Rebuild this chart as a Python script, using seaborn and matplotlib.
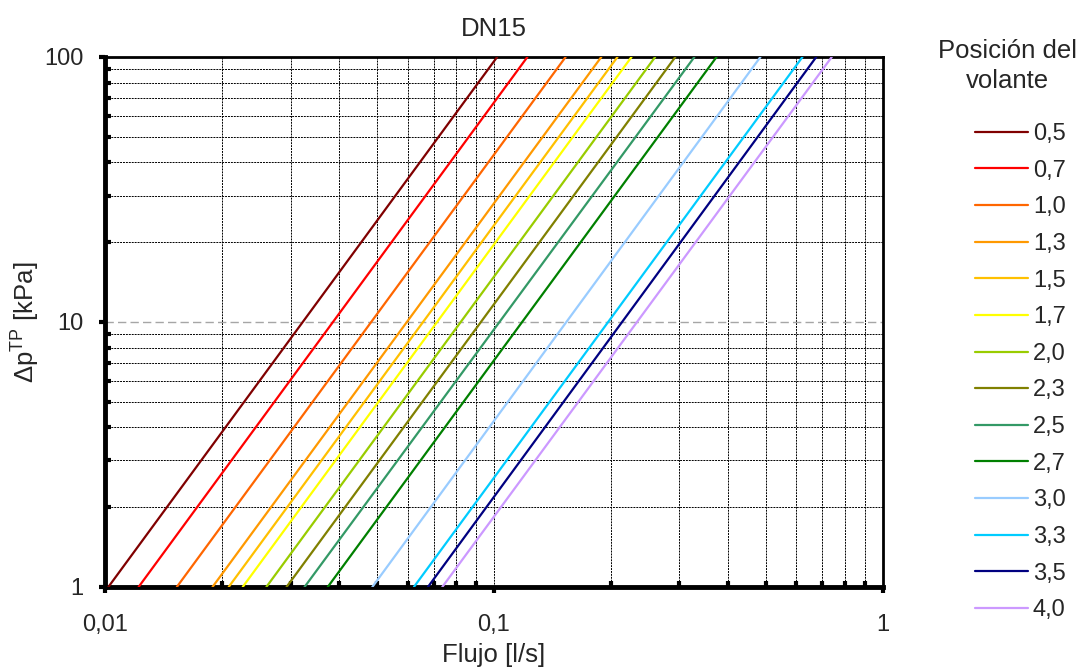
import numpy as np
import pandas as pd
import seaborn as sns
import matplotlib.pyplot as plt
from matplotlib.ticker import LogLocator, FixedLocator, FixedFormatter, NullFormatter

# handwheel positions and flow at 1 kPa and at 100 kPa
positions = ['0,5', '0,7', '1,0', '1,3', '1,5', '1,7', '2,0', '2,3', '2,5', '2,7', '3,0', '3,3', '3,5', '4,0']
q_at_1kpa = [0.0102, 0.0122, 0.0153, 0.0189, 0.0208, 0.0226, 0.0260, 0.0293, 0.0326, 0.0374, 0.0487, 0.0623, 0.0677, 0.0737]
q_at_100kpa = [0.102, 0.122, 0.153, 0.189, 0.208, 0.226, 0.260, 0.293, 0.328, 0.374, 0.485, 0.622, 0.675, 0.740]
dp_ends = [1, 100]
colors = ['#800000', '#FF0000', '#FF6600', '#FF9900', '#FFC000', '#FFFF00', '#99CC00',
          '#808000', '#339966', '#008000', '#99CCFF', '#00CCFF', '#000080', '#CC99FF']

rows = []
for p, q1, q2 in zip(positions, q_at_1kpa, q_at_100kpa):
    rows.append({'pos': p, 'q': q1, 'dp': dp_ends[0]})
    rows.append({'pos': p, 'q': q2, 'dp': dp_ends[1]})
df = pd.DataFrame(rows)

sns.set_style('white')
plt.rcParams['font.family'] = ['Liberation Sans', 'DejaVu Sans']
plt.rcParams['mathtext.fontset'] = 'custom'
plt.rcParams['mathtext.rm'] = 'Liberation Sans'

fig = plt.figure(figsize=(10.83, 6.70), dpi=100)
ax = fig.add_axes([0.097, 0.124, 0.718, 0.791])

sns.lineplot(data=df, x='q', y='dp', hue='pos', palette=colors, hue_order=positions,
             linewidth=1.6, ax=ax, zorder=3, sort=False, estimator=None)

ax.set_xscale('log')
ax.set_yscale('log')
ax.set_xlim(0.01, 1)
ax.set_ylim(1, 100)

# ticks
ax.xaxis.set_major_locator(FixedLocator([0.01, 0.1, 1]))
ax.xaxis.set_major_formatter(FixedFormatter(['0,01', '0,1', '1']))
ax.yaxis.set_major_locator(FixedLocator([1, 10, 100]))
ax.yaxis.set_major_formatter(FixedFormatter(['1', '10', '100']))
ax.xaxis.set_minor_locator(LogLocator(base=10, subs=np.arange(2, 10), numticks=20))
ax.yaxis.set_minor_locator(LogLocator(base=10, subs=np.arange(2, 10), numticks=20))
ax.xaxis.set_minor_formatter(NullFormatter())
ax.yaxis.set_minor_formatter(NullFormatter())
ax.tick_params(which='major', direction='out', length=4.5, width=3, labelsize=17, color='black',
               left=True, bottom=True)
ax.tick_params(axis='x', which='major', pad=15)
ax.tick_params(axis='y', which='major', pad=11)
ax.tick_params(which='minor', direction='in', length=4, width=3, color='black', left=True, bottom=True)

# grid
ax.xaxis.grid(True, which='both', color='black', linestyle=(0, (2, 1)), linewidth=0.7)
ax.yaxis.grid(True, which='minor', color='black', linestyle=(0, (2, 1)), linewidth=0.7)
ax.yaxis.grid(True, which='major', color='#A6A6A6', linestyle=(0, (6, 3)), linewidth=1.0)
ax.set_axisbelow(True)

for s in ['left', 'bottom']:
    ax.spines[s].set_linewidth(3.5)
    ax.spines[s].set_color('black')
for s in ['top', 'right']:
    ax.spines[s].set_linewidth(2)
    ax.spines[s].set_color('black')

ax.set_title('DN15', fontsize=18.5, pad=15)
ax.set_xlabel('Flujo [l/s]', fontsize=18.5)
ax.set_ylabel(r'Δp$^{\mathrm{TP}}$ [kPa]', fontsize=18.5)
ax.xaxis.set_label_coords(0.5, -0.105)
ax.yaxis.set_label_coords(-0.083, 0.5)

fig.text(1007 / 1083, 1 - 66 / 670, 'Posición del\nvolante', fontsize=18.5,
         ha='center', va='center', multialignment='center', linespacing=1.3)

handles, labels = ax.get_legend_handles_labels()
leg = ax.legend(handles, labels, loc='upper left',
                bbox_to_anchor=(975 / 1083, 1 - 123 / 670), bbox_transform=fig.transFigure,
                frameon=False, fontsize=17, handlelength=2.25, borderpad=0, borderaxespad=0,
                handletextpad=0.2, labelspacing=0.62)

fig.savefig('out.png', dpi=100)
